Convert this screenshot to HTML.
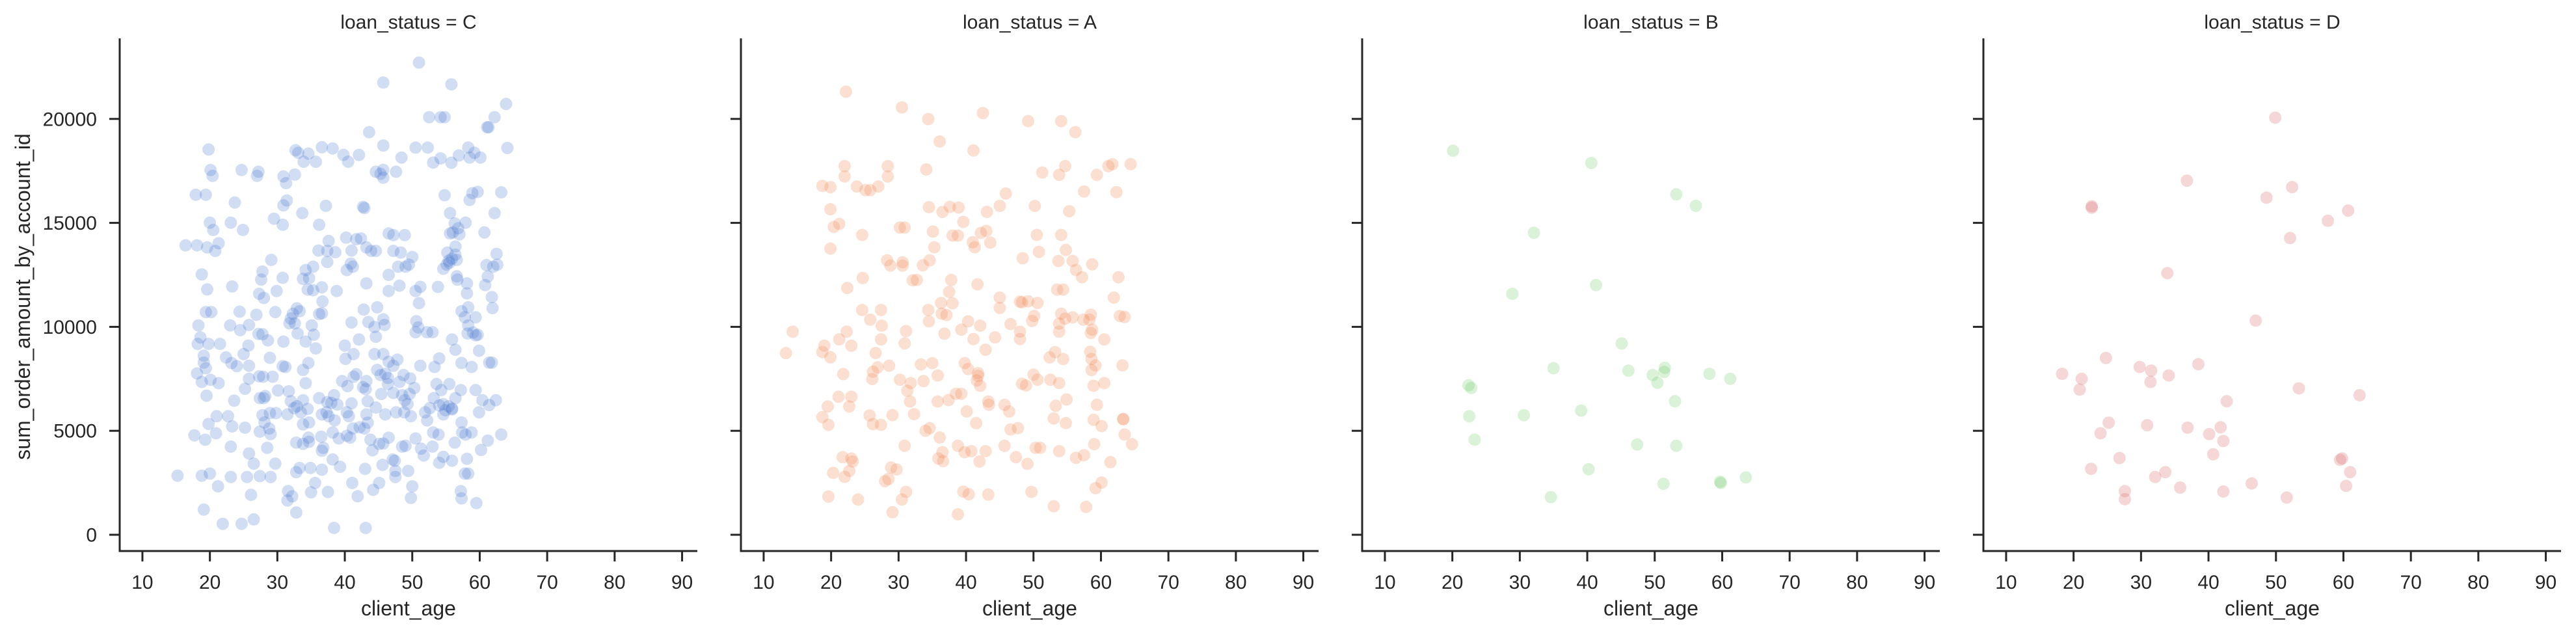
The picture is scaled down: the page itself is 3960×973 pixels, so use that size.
<!DOCTYPE html>
<html><head><meta charset="utf-8">
<style>
html,body{margin:0;padding:0;background:#fff;}
svg{display:block;font-family:"Liberation Sans",Arial,sans-serif;}
</style></head>
<body>
<svg id="chart" width="3960" height="973" viewBox="0 0 3960 973"></svg>
<script>
const facetTitles = ["loan_status = C","loan_status = A","loan_status = B","loan_status = D"];
const facetColors = ["#4878d0","#ee854a","#6acc64","#d65f5f"];
const xTicks = [10,20,30,40,50,60,70,80,90];
const yTicks = [0,5000,10000,15000,20000];
const pointsC = [[16.4,13920],[18.1,13920],[15.2,2840],[17.9,16350],[19.4,16350],[19.8,18530],[20.1,17540],[20.4,17260],[20.0,15010],[20.5,14660],[19.6,13820],[21.3,14020],[20.8,13650],[18.8,12520],[19.6,11800],[19.4,10710],[20.2,10710],[18.3,10070],[18.6,9490],[18.2,9180],[19.8,9180],[21.5,9180],[19.1,8610],[19.1,8280],[19.4,8010],[18.1,7760],[18.8,7350],[20.1,7450],[21.3,7290],[19.5,6690],[19.8,5330],[21.0,5700],[20.9,4880],[17.7,4780],[19.3,4570],[18.8,2840],[20.0,2940],[21.2,2330],[19.1,1210],[21.9,525],[22.4,8530],[23.2,8260],[23.3,11940],[23.1,15010],[24.7,17540],[23.7,15980],[24.9,14660],[24.4,10730],[23.0,10070],[24.5,9840],[25.8,10090],[25.7,9100],[25.0,8690],[24.0,8110],[25.8,8130],[23.6,6450],[25.2,7020],[25.8,7500],[22.7,5700],[23.3,5210],[25.2,5150],[23.1,4240],[25.8,3910],[25.5,2780],[23.1,2780],[26.1,1920],[24.7,525],[26.5,740],[26.5,3420],[27.0,17260],[27.2,17460],[27.6,12270],[27.8,12660],[27.3,11590],[28.0,11390],[26.9,10580],[27.2,9660],[27.8,9640],[28.6,9350],[28.9,8510],[27.3,7620],[27.9,7600],[29.3,7600],[27.4,6570],[28.0,6570],[28.2,6670],[27.8,5750],[28.1,5400],[27.4,4960],[28.8,5110],[29.0,4840],[28.5,4180],[29.0,2780],[27.4,2820],[29.7,3420],[29.8,5850],[30.1,6940],[28.9,5850],[29.1,13220],[29.7,10710],[29.9,11720],[29.5,15200],[30.8,14910],[30.9,15840],[31.4,16080],[30.9,17230],[31.3,16910],[32.7,18490],[32.6,17320],[33.1,18370],[34.6,18330],[33.9,17940],[35.7,17940],[33.7,15470],[30.8,12360],[30.9,9290],[31.2,8070],[30.8,8110],[31.8,10170],[32.0,10400],[32.3,10630],[32.6,10170],[33.0,9680],[32.9,10890],[33.3,10750],[33.8,12310],[34.2,12730],[34.7,12340],[35.3,12890],[34.5,11790],[35.3,11760],[34.2,9290],[35.1,10070],[35.4,9620],[35.7,8960],[34.6,8260],[33.8,7930],[34.2,7290],[31.7,6900],[32.0,6420],[32.5,6090],[32.9,6180],[33.5,5890],[33.8,6470],[34.5,6050],[33.8,5310],[34.7,5400],[31.5,5790],[34.6,4670],[32.8,4430],[33.8,4370],[34.7,4470],[32.8,3010],[33.3,3210],[31.6,2100],[31.5,1650],[32.2,1850],[32.8,1070],[34.9,3210],[35.6,2490],[35.0,2040],[36.6,3130],[37.5,2060],[36.5,4720],[36.6,4040],[36.8,4180],[36.2,6570],[36.6,5790],[37.3,5890],[37.6,5700],[37.4,6380],[38.0,6340],[38.4,6710],[38.9,6260],[38.2,4920],[39.1,4630],[38.5,5500],[39.3,3270],[38.2,3620],[38.4,330],[36.7,11220],[36.2,10610],[36.6,10650],[36.6,11900],[36.1,13670],[37.4,13120],[37.6,14130],[37.4,13650],[38.6,13590],[38.8,11720],[37.2,15820],[36.6,18640],[38.2,18580],[39.8,18270],[40.5,17940],[42.1,18270],[36.2,14910],[40.2,14290],[40.9,13040],[40.3,12730],[41.2,12890],[41.7,14210],[42.4,14250],[41.0,13670],[43.2,13820],[43.9,13650],[44.6,13650],[43.2,12090],[42.8,10830],[41.0,10210],[43.5,10230],[44.4,9990],[44.6,9520],[42.1,9390],[41.3,8690],[40.1,8460],[40.0,9100],[39.6,7390],[40.4,7150],[41.3,7600],[41.7,7720],[42.7,7100],[43.2,7390],[43.1,7000],[43.4,6420],[41.0,6320],[40.3,5890],[40.6,5700],[41.2,5110],[42.2,5170],[42.9,5110],[43.2,5790],[43.4,5390],[40.3,4760],[40.8,4670],[43.8,4570],[44.1,4060],[43.0,3170],[41.9,1850],[41.1,2490],[44.2,2160],[43.1,330],[45.1,2490],[45.6,3360],[45.1,4370],[45.7,4390],[46.5,4670],[47.1,3620],[47.4,3560],[47.5,3070],[47.5,2780],[48.5,4240],[49.0,4280],[49.4,3070],[50.0,2330],[49.8,1770],[46.0,5790],[44.6,6120],[45.4,6770],[46.4,7250],[47.2,6820],[48.1,7350],[48.5,6710],[48.9,6470],[49.6,6770],[49.3,6280],[49.8,5700],[48.8,5890],[47.6,5890],[44.8,7930],[45.3,7680],[46.0,7740],[46.4,7540],[44.4,8690],[45.7,8690],[46.5,8320],[47.2,8130],[47.8,8420],[48.7,7680],[49.7,7520],[50.3,7060],[45.7,10360],[45.9,10090],[44.8,10940],[45.3,17360],[45.7,17550],[45.7,17170],[44.6,17460],[47.6,17460],[45.7,18720],[48.4,18140],[43.6,19360],[45.7,21750],[51.0,22710],[55.8,21660],[46.5,14490],[47.2,14410],[48.9,14410],[47.2,13650],[48.3,13570],[49.5,12990],[50.0,13360],[49.0,12890],[47.9,12890],[46.5,12500],[46.5,11720],[48.1,11980],[50.5,11720],[51.0,11140],[51.2,11920],[50.6,10270],[50.5,9740],[50.9,9970],[52.2,9740],[53.0,9740],[51.2,8130],[53.3,8070],[54.0,8480],[50.5,4630],[51.3,4140],[51.7,3810],[53.0,4240],[54.0,3460],[54.6,3750],[53.9,4820],[53.1,4920],[52.2,5500],[51.9,5890],[52.6,6090],[53.2,6570],[54.0,6220],[54.6,6280],[54.9,5990],[55.4,6180],[55.9,6070],[53.6,7250],[54.3,6960],[55.5,7250],[55.9,6030],[54.6,5790],[55.9,3560],[56.3,4430],[57.3,5400],[57.4,4920],[57.9,4820],[58.8,4920],[57.2,2100],[57.3,1750],[57.8,2940],[58.3,2940],[58.1,3650],[59.5,1520],[60.2,4080],[61.2,4530],[63.2,4820],[56.4,6570],[57.2,6960],[59.4,6960],[60.4,6470],[61.4,6240],[62.4,6470],[59.9,5890],[57.3,8260],[58.8,8070],[59.9,8850],[61.4,8280],[61.8,8280],[58.2,9680],[59.0,9720],[59.4,9590],[59.7,9620],[57.8,10460],[58.3,10940],[59.4,10460],[57.3,10750],[56.4,8900],[55.9,9390],[58.3,10070],[56.6,12430],[56.7,12270],[58.1,12090],[58.1,11610],[60.8,12010],[61.2,12420],[61.8,11430],[61.9,10900],[54.6,12790],[55.1,12990],[55.5,13080],[55.9,13280],[56.6,13220],[55.2,13570],[56.4,13470],[55.4,13180],[53.8,11920],[56.4,13860],[55.6,14490],[56.0,14540],[57.0,14450],[56.8,14740],[56.3,14970],[57.9,15010],[55.6,15470],[54.8,16330],[58.5,16100],[58.9,16430],[59.7,16490],[60.7,14540],[62.2,15470],[63.2,16470],[62.5,13510],[62.6,12990],[62.0,12890],[61.0,12970],[54.2,20080],[54.8,20080],[52.5,20080],[50.5,18620],[52.3,18620],[53.1,17900],[54.2,18100],[55.8,17890],[56.9,18240],[58.3,18620],[59.2,18370],[58.5,18140],[60.1,18140],[61.1,19600],[61.3,19600],[62.2,20080],[63.9,20720],[64.1,18600],[42.9,15710],[42.7,15770]];
const pointsA = [[22.2,21306],[30.5,20552],[34.4,19990],[42.5,20280],[49.2,19894],[54.1,19894],[56.2,19364],[36.1,18915],[41.1,18481],[22.0,17727],[28.4,17727],[22.0,17229],[28.4,17229],[34.1,17567],[18.7,16780],[19.9,16716],[23.8,16748],[25.1,16572],[25.8,16572],[27.0,16748],[51.3,17422],[53.8,17310],[54.7,17727],[59.4,17310],[61.1,17727],[61.7,17823],[64.4,17823],[57.5,16507],[62.3,16475],[45.9,16411],[19.9,15657],[21.2,14950],[20.4,14806],[24.6,14421],[19.9,13763],[30.2,14774],[30.9,14774],[34.5,15753],[36.5,15528],[37.6,15769],[38.9,15737],[39.6,15047],[43.1,15528],[45.0,15817],[50.2,15817],[55.3,15560],[35.1,14581],[38.0,14389],[38.8,14389],[42.2,14517],[43.0,14613],[41.0,14067],[41.3,13827],[43.6,14051],[35.3,13827],[50.5,14421],[54.1,14421],[54.8,13698],[50.8,13602],[48.4,13297],[53.7,13169],[55.8,13169],[56.3,12736],[57.2,12383],[58.7,13008],[28.3,13201],[28.8,12944],[30.6,13105],[30.6,12944],[33.6,12960],[34.6,13201],[32.1,12238],[32.7,12254],[37.8,12254],[37.5,11676],[24.7,12350],[22.4,11869],[41.7,12045],[62.6,12383],[61.9,11404],[53.5,11789],[54.4,11789],[45.0,11404],[45.0,10906],[48.0,11211],[48.3,11179],[49.2,11227],[50.6,11147],[36.3,11147],[38.0,11131],[34.4,10810],[36.4,10633],[37.1,10569],[34.5,10264],[24.6,10810],[27.4,10810],[25.8,10344],[27.5,10055],[54.1,10633],[54.7,10392],[55.8,10457],[57.4,10344],[58.5,10585],[58.3,10344],[50.1,10521],[49.8,10280],[53.8,10152],[62.8,10521],[63.5,10472],[40.3,10264],[42.1,10055],[46.6,10135],[14.3,9766],[13.3,8739],[22.3,9766],[21.2,9397],[23.0,9092],[19.0,9092],[18.7,8787],[19.9,8531],[27.4,9397],[26.6,8739],[31.1,9798],[30.9,9205],[36.8,9670],[39.3,9863],[41.1,9413],[44.3,9493],[42.9,8899],[48.0,9766],[48.0,9413],[53.8,9766],[58.7,9863],[58.5,9702],[60.5,9397],[53.2,8787],[52.4,8531],[54.4,8451],[58.4,8803],[58.6,8451],[59.2,8146],[58.6,7922],[63.2,8146],[21.8,7728],[26.9,8049],[26.2,7841],[26.1,7487],[28.6,8129],[33.3,8194],[35.0,8258],[39.8,8258],[40.3,7969],[41.8,7776],[41.8,7648],[41.6,7423],[42.1,7166],[35.8,7664],[33.7,7391],[31.8,7294],[30.2,7455],[31.3,6925],[31.7,6412],[50.0,7696],[50.6,7455],[48.3,7262],[48.9,7182],[52.5,7455],[53.8,7294],[58.9,7166],[60.5,7294],[21.1,6637],[23.0,6637],[22.7,6171],[19.5,6171],[18.7,5657],[19.6,5288],[25.7,5738],[26.2,5320],[27.4,5288],[29.1,5754],[32.3,5802],[35.8,6412],[37.4,6476],[38.5,6781],[39.3,6781],[40.1,5930],[41.5,5368],[43.3,6412],[43.4,6251],[45.7,6251],[46.4,5930],[46.6,5063],[47.7,5128],[53.3,6203],[54.9,6508],[59.4,6251],[53.0,5593],[54.8,5368],[58.9,5529],[60.1,5224],[63.3,5561],[63.3,5561],[63.5,4823],[64.6,4357],[34.0,4999],[34.6,5128],[36.1,4678],[30.9,4277],[38.8,4277],[39.8,3972],[40.8,4020],[42.9,4020],[42.0,3523],[36.5,3972],[35.9,3667],[36.6,3539],[45.7,4277],[47.4,3731],[49.1,3411],[50.3,4181],[51.0,4181],[53.8,4020],[56.3,3699],[57.5,3828],[59.0,4357],[61.4,3491],[21.7,3731],[23.0,3667],[23.2,3523],[22.7,3074],[20.3,2977],[22.0,2784],[28.9,3234],[29.7,3138],[28.5,2688],[28.0,2576],[19.6,1838],[24.0,1693],[31.1,2062],[30.5,1693],[29.1,1083],[39.6,2078],[40.4,1950],[43.3,1934],[38.8,987],[49.7,2062],[53.0,1372],[57.8,1340],[59.2,2239],[60.1,2512]];
const pointsB = [[20.1,18470],[40.6,17880],[53.2,16370],[56.1,15820],[32.1,14520],[41.3,12010],[28.9,11590],[45.1,9200],[35.0,8010],[46.1,7890],[51.5,8030],[51.4,7830],[49.7,7680],[50.4,7310],[58.1,7740],[61.2,7500],[22.4,7190],[22.8,7060],[53.0,6420],[22.5,5700],[30.6,5750],[39.1,5970],[23.3,4570],[47.4,4340],[53.2,4280],[40.2,3150],[63.5,2760],[59.7,2550],[59.8,2490],[51.3,2450],[34.6,1810]];
const pointsD = [[49.9,20060],[36.8,17030],[52.4,16720],[48.6,16210],[22.7,15800],[22.7,15730],[60.7,15590],[57.7,15100],[52.1,14270],[33.9,12580],[47.0,10300],[24.8,8500],[18.3,7740],[21.2,7500],[29.8,8070],[31.5,7890],[34.1,7660],[38.5,8200],[31.4,7350],[20.9,6980],[53.4,7040],[62.4,6710],[42.7,6420],[25.2,5390],[30.9,5270],[36.9,5150],[41.8,5170],[24.0,4880],[40.1,4840],[42.2,4510],[40.7,3870],[26.8,3690],[59.5,3600],[59.8,3670],[22.6,3170],[33.6,3010],[61.0,3010],[32.1,2780],[46.4,2470],[35.8,2270],[60.4,2350],[27.6,2100],[42.2,2080],[27.6,1710],[51.6,1790]];
const facetPoints = [pointsC, pointsA, pointsB, pointsD];

const NS = "http://www.w3.org/2000/svg";
const svg = document.getElementById('chart');
const PANEL_LEFT = 184, PANEL_STEP = 955, PANEL_W = 888;
const TOP = 59, BOTTOM = 847;
const X_MIN = 6.63, X_MAX = 92.26;
const Y_MIN = -782, Y_MAX = 23873;
function xScale(p, v){ return PANEL_LEFT + p*PANEL_STEP + (v - X_MIN)/(X_MAX - X_MIN)*PANEL_W; }
function yScale(v){ return BOTTOM - (v - Y_MIN)/(Y_MAX - Y_MIN)*(BOTTOM - TOP); }
function mk(tag, attrs){ const e = document.createElementNS(NS, tag); for (const k in attrs) e.setAttribute(k, attrs[k]); return e; }

for (let p = 0; p < 4; p++) {
  const g = mk('g', {});
  
  
  svg.appendChild(g);
  const L = PANEL_LEFT + p*PANEL_STEP;

  const pts = mk('g', {fill: facetColors[p], 'fill-opacity': 0.25});
  
  
  g.appendChild(pts);
  facetPoints[p].forEach(d => {
    const c = mk('circle', {cx: xScale(p, d[0]).toFixed(1), cy: yScale(d[1]).toFixed(1), r: 9.5});
    
    
    pts.appendChild(c);
  });

  const ys = mk('line', {x1: L, y1: TOP, x2: L, y2: BOTTOM+1.5, stroke: '#262626', 'stroke-width': 3});
  
  
  g.appendChild(ys);
  const xs = mk('line', {x1: L-1.5, y1: BOTTOM, x2: L+PANEL_W, y2: BOTTOM, stroke: '#262626', 'stroke-width': 3});
  
  
  g.appendChild(xs);

  xTicks.forEach(t => {
    const x = xScale(p, t);
    const tk = mk('line', {x1: x, y1: BOTTOM, x2: x, y2: BOTTOM+16, stroke: '#262626', 'stroke-width': 3});
    
    
    g.appendChild(tk);
    const tl = mk('text', {x: x, y: 905, 'text-anchor': 'middle', 'font-size': 30, fill: '#262626'});
    tl.textContent = t;
    
    
    g.appendChild(tl);
  });
  yTicks.forEach(t => {
    const y = yScale(t);
    const tk = mk('line', {x1: L-16, y1: y, x2: L, y2: y, stroke: '#262626', 'stroke-width': 3});
    
    
    g.appendChild(tk);
    if (p === 0) {
      const tl = mk('text', {x: 149, y: y + 10.5, 'text-anchor': 'end', 'font-size': 30, fill: '#262626'});
      tl.textContent = t;
      
      
      g.appendChild(tl);
    }
  });

  const title = mk('text', {x: L + PANEL_W/2, y: 44, 'text-anchor': 'middle', 'font-size': 30, fill: '#262626'});
  title.textContent = facetTitles[p];
  
  
  g.appendChild(title);

  const xl = mk('text', {x: L + PANEL_W/2, y: 946, 'text-anchor': 'middle', 'font-size': 32, fill: '#262626'});
  xl.textContent = 'client_age';
  
  
  g.appendChild(xl);
}
const yl = mk('text', {x: 0, y: 0, 'text-anchor': 'middle', 'font-size': 32, fill: '#262626', transform: 'translate(46,456) rotate(-90)'});
yl.textContent = 'sum_order_amount_by_account_id';


svg.appendChild(yl);
</script>
</body></html>
